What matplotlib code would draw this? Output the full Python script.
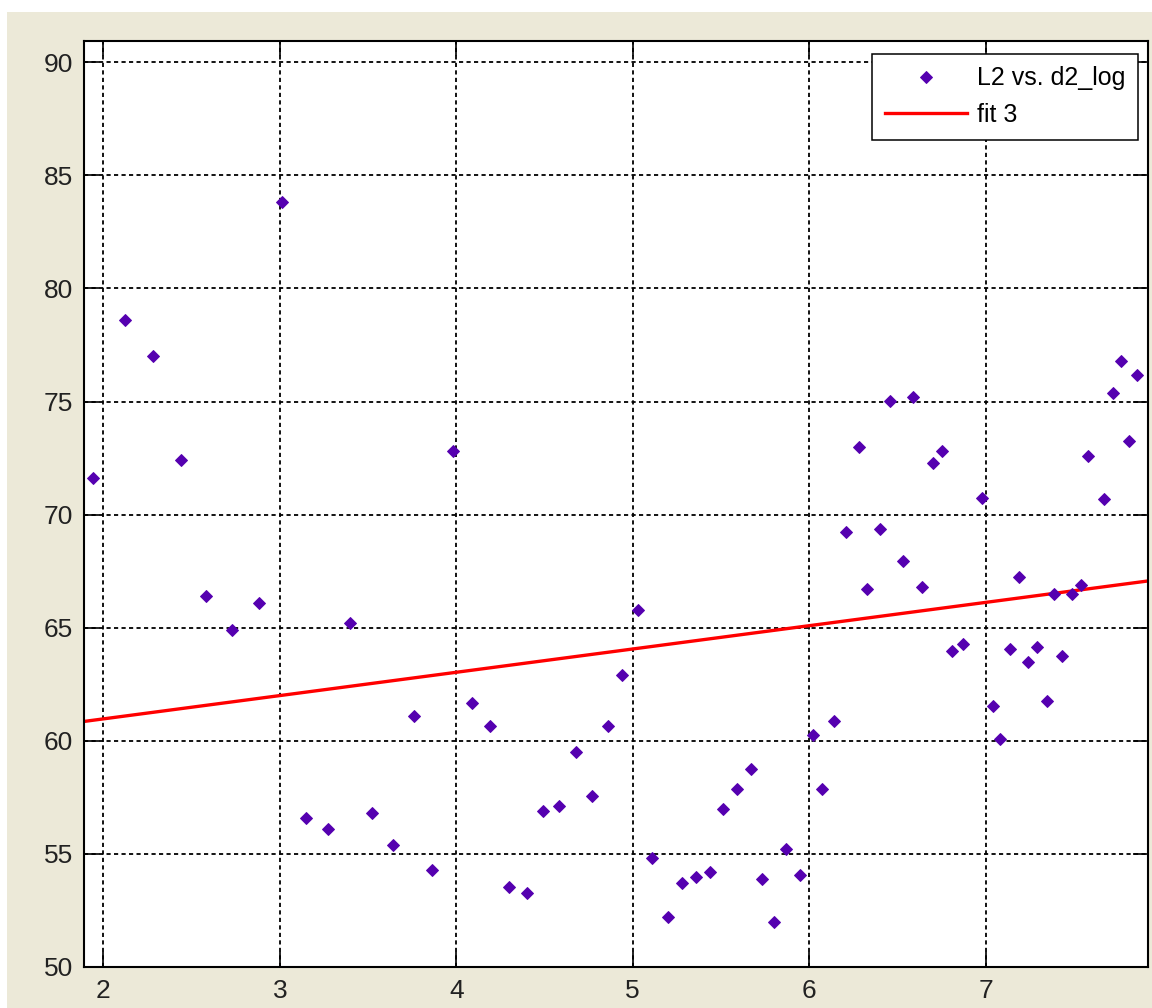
import numpy as np
import matplotlib
matplotlib.use("Agg")
import matplotlib.pyplot as plt
from matplotlib.patches import Rectangle

# L2 vs. d2_log
d2_log = [1.94, 2.12, 2.28, 2.44, 2.58, 2.73, 2.88, 3.01, 3.15, 3.27,
          3.40, 3.52, 3.64, 3.76, 3.86, 3.98, 4.09, 4.19, 4.30, 4.40,
          4.49, 4.58, 4.68, 4.77, 4.86, 4.94, 5.03, 5.11, 5.20, 5.28,
          5.36, 5.44, 5.51, 5.59, 5.67, 5.73, 5.80, 5.87, 5.95, 6.02,
          6.07, 6.14, 6.21, 6.28, 6.33, 6.40, 6.46, 6.53, 6.59, 6.64,
          6.70, 6.75, 6.81, 6.87, 6.98, 7.04, 7.08, 7.14, 7.19, 7.24,
          7.29, 7.35, 7.39, 7.43, 7.49, 7.54, 7.58, 7.67, 7.72, 7.765,
          7.81, 7.86]
L2 = [71.6, 78.6, 77.0, 72.4, 66.4, 64.9, 66.1, 83.8, 56.6, 56.1,
      65.2, 56.8, 55.4, 61.1, 54.3, 72.8, 61.65, 60.66, 53.52, 53.26,
      56.88, 57.13, 59.5, 57.57, 60.66, 62.9, 65.8, 54.83, 52.2, 53.7,
      53.96, 54.2, 56.97, 57.85, 58.74, 53.87, 52.0, 55.2, 54.05, 60.25,
      57.85, 60.86, 69.25, 72.98, 66.7, 69.35, 75.01, 67.94, 75.19, 66.79,
      72.27, 72.8, 63.95, 64.3, 70.75, 61.56, 60.06, 64.04, 67.23, 63.5,
      64.13, 61.75, 66.48, 63.77, 66.48, 66.88, 72.6, 70.68, 75.38, 76.78,
      73.24, 76.16]

# fit 3: first-order polynomial coefficients
fit_coef = [1.03, 58.91]

x_ticks = [2, 3, 4, 5, 6, 7]
y_ticks = [50, 55, 60, 65, 70, 75, 80, 85, 90]

plt.rcParams['font.family'] = ['Liberation Sans Narrow', 'Liberation Sans', 'DejaVu Sans']
plt.rcParams['lines.scale_dashes'] = False

fig = plt.figure(figsize=(11.52, 10.08), dpi=100, facecolor='white')
fig.patches.append(Rectangle((7 / 1152, 0), 1, (1008 - 12) / 1008,
                             transform=fig.transFigure, facecolor='#ece9d8',
                             edgecolor='none', zorder=-10))

ax = fig.add_axes([84 / 1152, 41 / 1008, (1148 - 84) / 1152, (967 - 41) / 1008])
ax.set_facecolor('white')

xfit = np.linspace(1.89, 7.92, 50)
ax.plot(d2_log, L2, linestyle='none', marker='D', markersize=6,
        color='#5500b0', markeredgewidth=0.7, label='L2 vs. d2_log', zorder=3)
ax.plot(xfit, np.polyval(fit_coef, xfit), color='#ff0000', linewidth=2.4,
        label='fit 3', zorder=2)

ax.set_xlim(1.89, 7.92)
ax.set_ylim(50, 90.94)
ax.set_xticks(x_ticks)
ax.set_yticks(y_ticks)

ax.grid(True, color='black', linestyle=(0, (3.0, 2.4)), linewidth=1.3)
ax.set_axisbelow(True)
ax.tick_params(direction='in', length=11, width=1.2, top=True, right=True,
               labelsize=19, colors='black', labelcolor='#222222')
ax.tick_params(axis='y', pad=8)
ax.tick_params(axis='x', pad=9)
for s in ax.spines.values():
    s.set_linewidth(1.5)
    s.set_color('black')

leg = ax.legend(loc='upper right', bbox_to_anchor=(1138 / 1152, (1008 - 54) / 1008),
                bbox_transform=fig.transFigure, borderaxespad=0, numpoints=1,
                fontsize=18, fancybox=False, shadow=False, framealpha=1,
                edgecolor='black', handlelength=3.3, handletextpad=0.4,
                borderpad=0.5, labelspacing=0.5, markerscale=1.0)
leg.get_frame().set_linewidth(1.1)

fig.savefig('out.png', dpi=100, facecolor=fig.get_facecolor())
